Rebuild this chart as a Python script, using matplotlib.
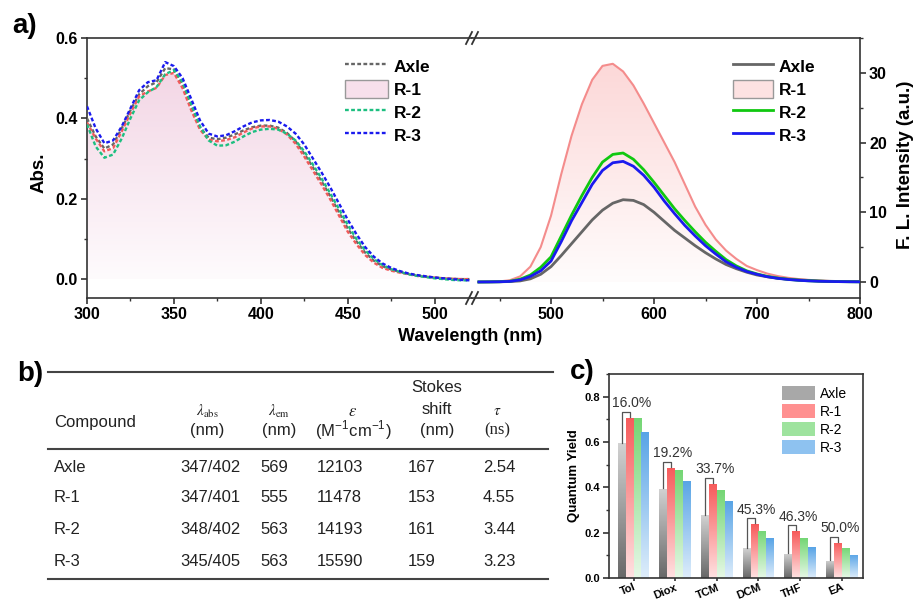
import numpy as np
import matplotlib
matplotlib.use('Agg')
import matplotlib.pyplot as plt
from matplotlib.colors import LinearSegmentedColormap
from matplotlib.lines import Line2D
from matplotlib.patches import Patch, Polygon
from matplotlib.ticker import MultipleLocator

plt.rcParams['font.family'] = ['Liberation Sans', 'DejaVu Sans']
plt.rcParams['mathtext.fontset'] = 'stix'

W, H = 916, 602

def fx(x):
    return x / W

def fy(y):
    return 1 - y / H

# ---- a) absorption (300-520 nm, step 5) ----
abs_wl = np.arange(300, 521, 5)
abs_axle = [0.40, 0.355, 0.325, 0.335, 0.375, 0.42, 0.46, 0.48, 0.49,
            0.525, 0.522, 0.482, 0.428, 0.378, 0.352, 0.348, 0.352, 0.36,
            0.37, 0.378, 0.382, 0.382, 0.377, 0.364, 0.343, 0.312, 0.278,
            0.243, 0.206, 0.166, 0.126, 0.094, 0.066, 0.046, 0.032, 0.024,
            0.018, 0.013, 0.009, 0.006, 0.004, 0.002, 0.001, 0.0, 0.0]
abs_r1 = [0.39, 0.35, 0.318, 0.326, 0.368, 0.413, 0.455, 0.467, 0.476,
          0.508, 0.513, 0.475, 0.42, 0.372, 0.347, 0.343, 0.346, 0.353,
          0.365, 0.375, 0.38, 0.38, 0.374, 0.36, 0.337, 0.305, 0.27,
          0.235, 0.198, 0.158, 0.118, 0.087, 0.06, 0.041, 0.028, 0.021,
          0.016, 0.012, 0.008, 0.006, 0.004, 0.002, 0.001, 0.0, 0.0]
abs_r2 = [0.385, 0.33, 0.302, 0.31, 0.35, 0.40, 0.445, 0.465, 0.478,
          0.51, 0.52, 0.49, 0.435, 0.38, 0.345, 0.332, 0.333, 0.342,
          0.355, 0.366, 0.372, 0.374, 0.372, 0.362, 0.345, 0.318, 0.285,
          0.25, 0.213, 0.174, 0.135, 0.10, 0.072, 0.05, 0.035, 0.025,
          0.018, 0.012, 0.008, 0.005, 0.002, 0.0, -0.002, -0.003, -0.003]
abs_r3 = [0.43, 0.375, 0.338, 0.345, 0.38, 0.425, 0.47, 0.49, 0.495,
          0.54, 0.53, 0.50, 0.448, 0.395, 0.362, 0.355, 0.358, 0.368,
          0.38, 0.39, 0.395, 0.396, 0.392, 0.38, 0.362, 0.335, 0.30,
          0.265, 0.228, 0.188, 0.148, 0.112, 0.08, 0.056, 0.039, 0.028,
          0.02, 0.014, 0.01, 0.007, 0.004, 0.002, 0.0, -0.002, -0.003]

# ---- a) emission (430-800 nm, step 10) ----
fl_wl = np.arange(430, 801, 10)
fl_axle = [0.0, 0.01, 0.03, 0.06, 0.15, 0.45, 1.1, 2.2, 3.8, 5.5,
           7.2, 8.9, 10.3, 11.3, 11.8, 11.7, 11.1, 10.0, 8.7, 7.4,
           6.3, 5.2, 4.2, 3.3, 2.5, 1.9, 1.4, 1.0, 0.75, 0.55,
           0.4, 0.3, 0.22, 0.15, 0.1, 0.07, 0.05, 0.04]
fl_r1 = [0.0, 0.02, 0.08, 0.25, 0.8, 2.2, 5.0, 9.5, 15.5, 21.0,
         25.5, 29.0, 31.0, 31.3, 30.2, 28.2, 25.6, 22.8, 20.0, 17.2,
         14.0, 10.8, 8.2, 6.1, 4.5, 3.3, 2.3, 1.7, 1.2, 0.85,
         0.6, 0.42, 0.3, 0.2, 0.14, 0.1, 0.07, 0.05]
fl_r2 = [0.0, 0.01, 0.03, 0.1, 0.4, 1.0, 2.1, 3.6, 6.6, 9.6,
         12.4, 15.0, 17.2, 18.3, 18.5, 17.6, 16.1, 14.3, 12.4, 10.5,
         8.8, 7.2, 5.7, 4.4, 3.2, 2.3, 1.6, 1.15, 0.8, 0.55,
         0.38, 0.25, 0.17, 0.11, 0.07, 0.05, 0.03, 0.02]
fl_r3 = [0.0, 0.01, 0.03, 0.08, 0.3, 0.8, 1.6, 3.0, 5.8, 8.8,
         11.4, 14.0, 16.0, 17.1, 17.3, 16.6, 15.3, 13.6, 11.6, 9.8,
         8.1, 6.6, 5.2, 4.0, 2.9, 2.1, 1.5, 1.1, 0.75, 0.52,
         0.36, 0.24, 0.16, 0.1, 0.07, 0.05, 0.03, 0.02]

# ---- b) table ----
table_header = [['Compound'], [r'$\lambda_{\rm abs}$', '(nm)'], [r'$\lambda_{\rm em}$', '(nm)'],
                [r'$\varepsilon$', r'(M$^{\mathregular{-1}}$cm$^{\mathregular{-1}}$)'],
                ['Stokes', 'shift', '(nm)'], [r'$\tau$', '(ns)']]
table_rows = [['Axle', '347/402', '569', '12103', '167', '2.54'],
              ['R-1', '347/401', '555', '11478', '153', '4.55'],
              ['R-2', '348/402', '563', '14193', '161', '3.44'],
              ['R-3', '345/405', '563', '15590', '159', '3.23']]

# ---- c) quantum yield ----
solvents = ['Tol', 'Diox', 'TCM', 'DCM', 'THF', 'EA']
qy_axle = [0.594, 0.394, 0.277, 0.131, 0.108, 0.076]
qy_r1 = [0.706, 0.486, 0.416, 0.238, 0.207, 0.156]
qy_r2 = [0.708, 0.476, 0.387, 0.208, 0.175, 0.133]
qy_r3 = [0.645, 0.430, 0.339, 0.175, 0.136, 0.102]
qy_gain = ['16.0%', '19.2%', '33.7%', '45.3%', '46.3%', '50.0%']

names = ['Axle', 'R-1', 'R-2', 'R-3']


def gradient_under(ax, x, y, c_top, c_bot, ytop, z=0):
    verts = [(x[0], 0)] + list(zip(x, y)) + [(x[-1], 0)]
    poly = Polygon(verts, closed=True, facecolor='none', edgecolor='none')
    ax.add_patch(poly)
    cmap = LinearSegmentedColormap.from_list('g', [c_bot, c_top])
    grad = np.linspace(0, 1, 256).reshape(-1, 1)
    im = ax.imshow(grad, cmap=cmap, aspect='auto', origin='lower',
                   extent=[x[0], x[-1], 0, ytop], zorder=z)
    im.set_clip_path(poly)


def style_ticks(ax, size=11.5):
    ax.tick_params(which='major', direction='out', length=4, width=1.2, pad=2.5,
                   labelsize=size, color='#333333')
    ax.tick_params(which='minor', direction='out', length=2.5, width=1.0, color='#333333')
    for lab in ax.get_xticklabels() + ax.get_yticklabels():
        lab.set_fontweight('bold')
    for sp in ax.spines.values():
        sp.set_linewidth(1.2)
        sp.set_color('#333333')


fig = plt.figure(figsize=(9.16, 6.02), dpi=100)

# ----- panel a, left part -----
ax1 = fig.add_axes([fx(87), fy(298), fx(472) - fx(87), fy(38) - fy(298)])
gradient_under(ax1, abs_wl, abs_r1, '#f3d6e5', '#fefbfd', 0.52)
dash = (0, (1.6, 1.0))
ax1.plot(abs_wl, abs_axle, color='#666666', lw=1.7, ls=dash, zorder=3)
ax1.plot(abs_wl, abs_r1, color='#f05a5a', lw=1.7, ls=dash, zorder=3)
ax1.plot(abs_wl, abs_r2, color='#1dbf80', lw=1.7, ls=dash, zorder=3)
ax1.plot(abs_wl, abs_r3, color='#1a1aee', lw=1.7, ls=dash, zorder=4)
ax1.set_xlim(300, 521.5)
ax1.set_ylim(-0.047, 0.6)
ax1.xaxis.set_major_locator(MultipleLocator(50))
ax1.xaxis.set_minor_locator(MultipleLocator(25))
ax1.yaxis.set_major_locator(MultipleLocator(0.2))
ax1.yaxis.set_minor_locator(MultipleLocator(0.1))
ax1.yaxis.set_major_formatter(matplotlib.ticker.FormatStrFormatter('%.1f'))
ax1.spines['right'].set_visible(False)
style_ticks(ax1)

h1 = [Line2D([], [], color='#666666', lw=1.7, ls=dash),
      Patch(facecolor='#f7e0eb', edgecolor='#999999', lw=1.0),
      Line2D([], [], color='#1dbf80', lw=1.7, ls=dash),
      Line2D([], [], color='#1a1aee', lw=1.7, ls=dash)]
fig.legend(h1, names, loc='upper left', bbox_to_anchor=(fx(345), fy(57)), frameon=False,
           prop={'weight': 'bold', 'size': 12.5}, handlelength=2.5, handleheight=1.2,
           handletextpad=0.3, labelspacing=0.3, borderpad=0, borderaxespad=0)

# ----- panel a, right part -----
ax2 = fig.add_axes([fx(472), fy(298), fx(860) - fx(472), fy(38) - fy(298)])
gradient_under(ax2, fl_wl, fl_r1, '#fcd8d8', '#fffcfc', 31.3)
ax2.plot(fl_wl, fl_r1, color='#f48c8c', lw=1.5, zorder=3)
ax2.plot(fl_wl, fl_axle, color='#666666', lw=2.0, zorder=3)
ax2.plot(fl_wl, fl_r2, color='#10c810', lw=2.0, zorder=3)
ax2.plot(fl_wl, fl_r3, color='#1a1aee', lw=2.0, zorder=4)
ax2.set_xlim(423.3, 800)
ax2.set_ylim(-2.3, 35)
ax2.xaxis.set_major_locator(MultipleLocator(100))
ax2.xaxis.set_minor_locator(MultipleLocator(50))
ax2.yaxis.set_major_locator(MultipleLocator(10))
ax2.yaxis.set_minor_locator(MultipleLocator(5))
ax2.yaxis.tick_right()
ax2.spines['left'].set_visible(False)
style_ticks(ax2)
ax2.set_xticks([500, 600, 700, 800])

h2 = [Line2D([], [], color='#666666', lw=2.0),
      Patch(facecolor='#fde2e2', edgecolor='#999999', lw=1.0),
      Line2D([], [], color='#10c810', lw=2.0),
      Line2D([], [], color='#1a1aee', lw=2.0)]
fig.legend(h2, names, loc='upper left', bbox_to_anchor=(fx(733), fy(57)), frameon=False,
           prop={'weight': 'bold', 'size': 12.5}, handlelength=2.3, handleheight=1.2,
           handletextpad=0.35, labelspacing=0.3, borderpad=0, borderaxespad=0)

# break marks
for yb in (38, 298):
    for dx in (-3, 3):
        fig.add_artist(Line2D([fx(472 + dx - 3), fx(472 + dx + 3)], [fy(yb + 6), fy(yb - 6)],
                              color='#333333', lw=1.3))

fig.text(fx(25), fy(26), 'a)', fontsize=20, fontweight='bold', ha='center', va='center')
fig.text(fx(39), fy(173), 'Abs.', fontsize=13.5, fontweight='bold', rotation=90,
         ha='center', va='center')
fig.text(fx(470), fy(337), 'Wavelength (nm)', fontsize=13, fontweight='bold',
         ha='center', va='center')
fig.text(fx(906), fy(165), 'F. L. Intensity (a.u.)', fontsize=13.5, fontweight='bold',
         rotation=90, ha='center', va='center')

# ----- panel b, table -----
fig.text(fx(30), fy(374), 'b)', fontsize=20, fontweight='bold', ha='center', va='center')
for y0, x0, x1 in [(372, 48, 553), (449, 48, 548), (579, 48, 548)]:
    fig.add_artist(Line2D([fx(x0), fx(x1)], [fy(y0), fy(y0)], color='#444444', lw=1.5))

col_head_x = [54, 207, 279, 353, 437, 497]
fig.text(fx(col_head_x[0]), fy(422), table_header[0][0], fontsize=12, ha='left', va='center',
         color='#222222')
for j in (1, 2, 3, 5):
    sym, unit = table_header[j]
    fig.text(fx(col_head_x[j]), fy(411), sym, fontsize=11 if j != 3 else 12,
             ha='center', va='center', color='#222222')
    fam = ['Liberation Serif'] if j == 5 else ['Liberation Sans', 'DejaVu Sans']
    fig.text(fx(col_head_x[j]), fy(430), unit, fontsize=12, ha='center', va='center',
             color='#222222', family=fam)
for k, yy in enumerate([388, 409, 431]):
    fig.text(fx(col_head_x[4]), fy(yy), table_header[4][k], fontsize=12, ha='center',
             va='center', color='#222222')

col_x = [54, 180, 260, 317, 408, 483]
row_y = [467, 498, 530, 562]
for i, row in enumerate(table_rows):
    for j, val in enumerate(row):
        fig.text(fx(col_x[j]), fy(row_y[i]), val, fontsize=12, ha='left', va='center',
                 color='#222222')

# ----- panel c, bars -----
ax3 = fig.add_axes([fx(609), fy(578), fx(863) - fx(609), fy(374) - fy(578)])
xs = np.arange(len(solvents))
bw = 0.19
bar_cols = [('#d2d2d2', '#686868'), ('#f75a5a', '#ffe2e2'),
            ('#74d674', '#e6f8e6'), ('#58a4e6', '#deedfb')]
for k, vals in enumerate([qy_axle, qy_r1, qy_r2, qy_r3]):
    bars = ax3.bar(xs + (k - 1.5) * bw, vals, bw, facecolor='none', edgecolor='none')
    cmap = LinearSegmentedColormap.from_list('b%d' % k, [bar_cols[k][1], bar_cols[k][0]])
    for b in bars:
        im = ax3.imshow(np.linspace(0, 1, 128).reshape(-1, 1), cmap=cmap, aspect='auto',
                        origin='lower', extent=[b.get_x(), b.get_x() + bw, 0, b.get_height()],
                        zorder=2)
        im.set_clip_path(b)

for i in range(len(solvents)):
    xa = xs[i] - 1.5 * bw
    xb = xs[i] - 0.5 * bw
    top = qy_r1[i] + 0.025
    ax3.plot([xa, xa, xb, xb], [qy_axle[i] + 0.003, top, top, qy_r1[i] + 0.003],
             color='#555555', lw=0.9, zorder=3)
    ax3.text(xs[i] - 0.05, top + 0.008, qy_gain[i], fontsize=10, ha='center', va='bottom',
             color='#333333')

ax3.set_xlim(-0.59, 5.51)
ax3.set_ylim(0, 0.9)
ax3.set_xticks(xs)
ax3.set_xticklabels(solvents)
ax3.yaxis.set_major_locator(MultipleLocator(0.2))
ax3.yaxis.set_minor_locator(MultipleLocator(0.1))
ax3.yaxis.set_major_formatter(matplotlib.ticker.FormatStrFormatter('%.1f'))
style_ticks(ax3, size=8)
ax3.tick_params(axis='x', labelsize=8, pad=0.5, length=2.5)
for lab in ax3.get_xticklabels():
    lab.set_rotation(22)
    lab.set_ha('right')
    lab.set_rotation_mode('anchor')
ax3.set_ylabel('Quantum Yield', fontsize=9.5, fontweight='bold', labelpad=3)

h3 = [Patch(facecolor='#a8a8a8', edgecolor='none'),
      Patch(facecolor='#ff9090', edgecolor='none'),
      Patch(facecolor='#9ee39e', edgecolor='none'),
      Patch(facecolor='#8ec2f0', edgecolor='none')]
fig.legend(h3, names, loc='upper left', bbox_to_anchor=(fx(782), fy(386)), frameon=False,
           prop={'size': 10}, handlelength=2.4, handleheight=1.15, handletextpad=0.35,
           labelspacing=0.25, borderpad=0, borderaxespad=0)

fig.text(fx(582), fy(372), 'c)', fontsize=20, fontweight='bold', ha='center', va='center')

fig.savefig('out.png', dpi=100)
